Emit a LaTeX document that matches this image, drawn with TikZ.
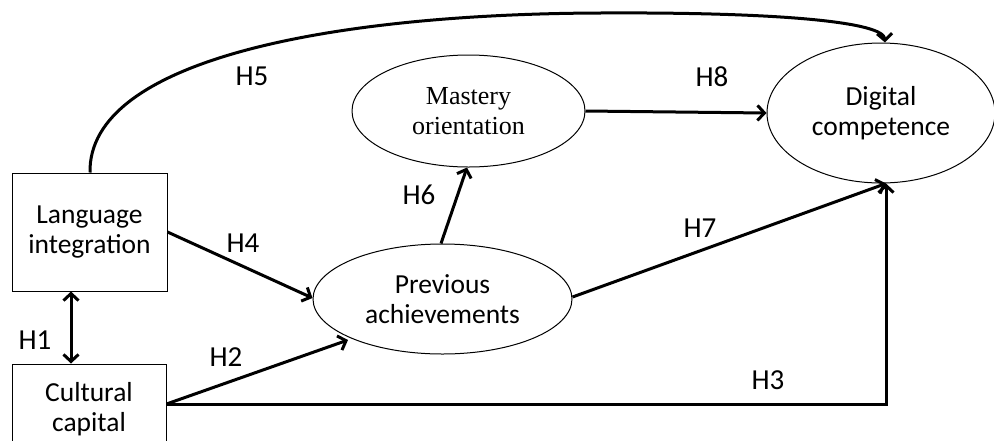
\documentclass[tikz,border=0pt]{standalone}
\usepackage{fontspec}
\setmainfont{Carlito}
\newfontfamily\serifface{Liberation Serif}
\usetikzlibrary{arrows.meta,shapes.geometric}
\begin{document}
\begin{tikzpicture}[x=1pt,y=-1pt,
  boxnode/.style={draw,line width=1pt,rectangle,inner sep=0pt,align=center,font=\fontsize{27.5}{30}\selectfont},
  oval/.style={draw,line width=1pt,ellipse,inner sep=0pt,align=center,font=\fontsize{27.5}{30}\selectfont},
  link/.style={line width=3pt,-{Straight Barb[length=7pt,width=15pt]}},
  lab/.style={font=\fontsize{29}{30}\selectfont,inner sep=0pt}]
\useasboundingbox (0,0) rectangle (994,440);
\node[boxnode,minimum width=155pt,minimum height=118pt] (lang) at (89.5,232) {Language\\integration};
\node[boxnode,minimum width=154pt,minimum height=90pt] (cult) at (89,409) {Cultural\\capital};
\node[oval,minimum width=259pt,minimum height=110pt] (prev) at (442.5,299) {Previous\\achievements};
\node[oval,minimum width=233pt,minimum height=112pt,font=\serifface\fontsize{26}{30}\selectfont] (mast) at (468.5,111) {Mastery\\orientation};
\node[oval,minimum width=228pt,minimum height=140pt] (dig) at (881,113) {Digital\\competence};
\coordinate (corner) at (886,404);
\coordinate (h2tip) at (348,340);
\draw[link,{Straight Barb[length=7pt,width=15pt]}-{Straight Barb[length=7pt,width=15pt]}] (lang.south -| 71,0) -- (cult.north -| 71,0);
\draw[link] (lang.east |- 0,232) -- (prev.west |- 0,298);
\draw[link] (cult.east |- 0,404) -- (h2tip);
\draw[link] (cult.east |- 0,404) -- (corner) -- (dig.south -| corner);
\draw[link] (prev.east |- 0,297) -- (dig.south -| corner);
\draw[link] (prev.north -| 441,0) -- (mast.south -| 467,0);
\draw[link] (mast.east) -- (dig.west);
\draw[link] (lang.north -| 90,0) .. controls (88,60) and (330,14) .. (600,13) .. controls (780,12) and (884,22) .. (dig.north -| 885,0);
\node[lab] (h1) at (35,340) {H1};
\node[lab] (h2) at (226,357) {H2};
\node[lab] (h3) at (768,380) {H3};
\node[lab] (h4) at (243,243) {H4};
\node[lab] (h5) at (252,76) {H5};
\node[lab] (h6) at (419,195) {H6};
\node[lab] (h7) at (700,228) {H7};
\node[lab] (h8) at (712,77) {H8};
\end{tikzpicture}
\end{document}
